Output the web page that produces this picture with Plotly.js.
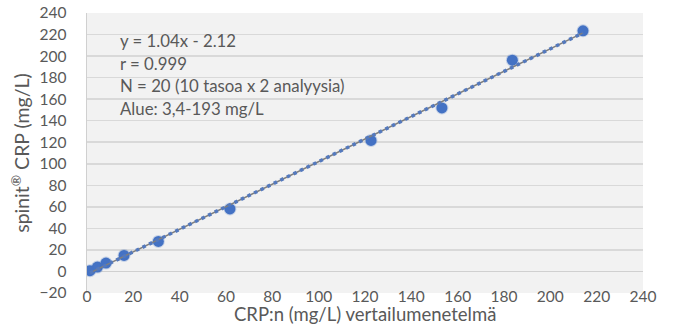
<!DOCTYPE html>
<html>
<head>
<meta charset="utf-8">
<script src="https://cdn.plot.ly/plotly-3.0.1.min.js"></script>
<style>html,body{margin:0;padding:0;background:#fff;}#chart{width:674px;height:324px;}</style>
</head>
<body>
<div id="chart"></div>
<script>
// Reference method (x) and spinit CRP (y), mg/L
const refValues = [1.3, 4.5, 8.2, 16.0, 30.8, 61.7, 122.6, 153.2, 183.6, 214.1];
const spinitValues = [0.7, 4.1, 7.8, 14.9, 27.9, 58.1, 121.7, 151.8, 196.2, 223.5];
const statLines = ["y = 1.04x - 2.12", "r = 0.999", "N = 20 (10 tasoa x 2 analyysia)", "Alue: 3,4-193 mg/L"];
const xTitle = "CRP:n (mg/L) vertailumenetelmä";
const yTitle = "spinit<sup>®</sup> CRP (mg/L)";

// least-squares trendline through the data (as the spreadsheet trendline does)
const n = refValues.length;
const mx = refValues.reduce((a, b) => a + b, 0) / n;
const my = spinitValues.reduce((a, b) => a + b, 0) / n;
let sxy = 0, sxx = 0;
for (let i = 0; i < n; i++) { sxy += (refValues[i] - mx) * (spinitValues[i] - my); sxx += (refValues[i] - mx) ** 2; }
const slope = sxy / sxx, icpt = my - slope * mx;
const tx = [Math.min(...refValues), Math.max(...refValues)];
const ty = tx.map(v => slope * v + icpt);

const font = "Lato, 'Open Sans', sans-serif";
const grey = "#595959";

const traces = [
  {x: refValues, y: spinitValues, type: "scatter", mode: "markers",
   marker: {color: "#4472C4", size: 11, line: {color: "rgba(68,114,196,0.25)", width: 2}},
   hoverinfo: "skip", showlegend: false},
  {x: tx, y: ty, type: "scatter", mode: "lines",
   line: {color: "#7f7f7f", width: 1.5}, hoverinfo: "skip", showlegend: false},
  {x: tx, y: ty, type: "scatter", mode: "lines",
   line: {color: "#5479bd", width: 3.5, dash: "3.5px,3.8px"}, hoverinfo: "skip", showlegend: false}
];

const annotations = statLines.map((t, i) => ({
  text: t, xref: "paper", yref: "paper", x: (118 - 87) / 556, y: 1 - ((41 + i * 22.4) - 13) / 280,
  xanchor: "left", yanchor: "middle", showarrow: false,
  font: {family: font, size: 16.8, color: grey}
}));
annotations.push({
  text: xTitle, xref: "paper", yref: "paper", x: 0.5, y: -(314 - 293) / 280,
  xanchor: "center", yanchor: "middle", showarrow: false,
  font: {family: font, size: 18.5, color: grey}
});

const layout = {
  width: 674, height: 324,
  margin: {l: 87, r: 31, t: 13, b: 31},
  paper_bgcolor: "#ffffff", plot_bgcolor: "#f2f2f2",
  showlegend: false,
  xaxis: {range: [0, 240], dtick: 20, tick0: 0, showgrid: false, zeroline: false,
          showline: false, ticks: "", ticklabelstandoff: -8,
          tickfont: {family: font, size: 15.5, color: grey},
          automargin: false},
  yaxis: {range: [-20, 240], dtick: 20, tick0: -20, showgrid: true, gridcolor: "#d9d9d9", gridwidth: 1.5,
          zeroline: true, zerolinecolor: "#d0d0d0", zerolinewidth: 1.5,
          showline: true, linecolor: "#d0d0d0", linewidth: 1.5, ticks: "", ticklabelstandoff: 16,
          tickfont: {family: font, size: 15.5, color: grey},
          title: {text: yTitle, standoff: 4, font: {family: font, size: 19.5, color: grey}},
          automargin: false},
  shapes: [{type: "rect", xref: "paper", yref: "paper", layer: "between",
            x0: (100 - 87) / 556, x1: (376 - 87) / 556, y0: 1 - (130 - 13) / 280, y1: 1 - (24 - 13) / 280,
            fillcolor: "#f2f2f2", line: {width: 0}}],
  annotations: annotations
};

Plotly.newPlot("chart", traces, layout, {displayModeBar: false, staticPlot: true});
</script>
</body>
</html>
